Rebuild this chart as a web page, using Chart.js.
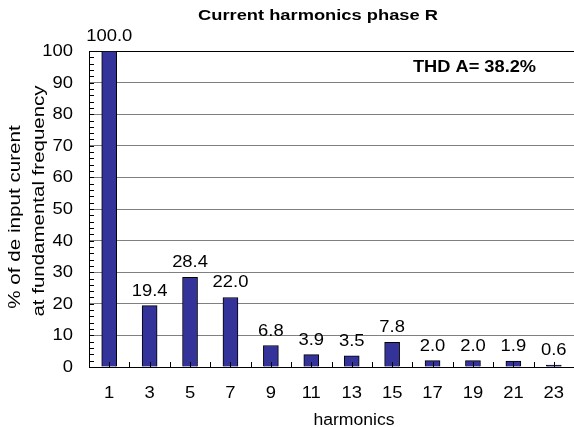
<!DOCTYPE html>
<html>
<head>
<meta charset="utf-8">
<script src="https://cdn.jsdelivr.net/npm/chart.js@4.4.1/dist/chart.umd.min.js"></script>
<style>
  html, body { margin: 0; padding: 0; background: #fff; }
  #wrap { width: 574px; height: 427px; }
</style>
</head>
<body>
<div id="wrap"><canvas id="harmChart"></canvas></div>
<script>
'use strict';

// ---- data ----
const harmonics = ['1', '3', '5', '7', '9', '11', '13', '15', '17', '19', '21', '23'];
const currentPct = [100.0, 19.4, 28.4, 22.0, 6.8, 3.9, 3.5, 7.8, 2.0, 2.0, 1.9, 0.6];
const yMin = 0, yMax = 100, yStep = 10, yMinorStep = 2;
const chartTitle = 'Current harmonics phase R';
const thdLabel = 'THD A= 38.2%';
const xTitle = 'harmonics';
const yTitle = ['% of de input curent', 'at fundamental frequency'];

const FONT = '"Liberation Sans", Arial, sans-serif';
const STRETCH = 1.15; // the source text is drawn a bit wide

function wideText(ctx, text, x, y, o) {
  ctx.save();
  ctx.translate(x, y);
  if (o.rotate) ctx.rotate(o.rotate);
  ctx.scale(o.sx || STRETCH, 1);
  ctx.font = o.font;
  ctx.fillStyle = '#000';
  ctx.textAlign = o.align || 'center';
  ctx.textBaseline = o.baseline || 'middle';
  ctx.fillText(text, 0, 0);
  ctx.restore();
}

// ---- ticks, labels and titles ----
const decorPlugin = {
  id: 'decor',
  afterDatasetsDraw(chart) {
    const { ctx, chartArea: a, scales: { x, y } } = chart;
    ctx.save();
    ctx.strokeStyle = '#000';
    ctx.lineWidth = 1;
    ctx.beginPath();
    // minor ticks on y, pointing inward
    for (let v = yMin; v <= yMax; v += yMinorStep) {
      const py = Math.round(y.getPixelForValue(v)) + 0.5;
      ctx.moveTo(a.left, py);
      ctx.lineTo(a.left + 5, py);
    }
    // x ticks at category centres and boundaries
    const half = (a.right - a.left) / (harmonics.length * 2);
    for (let i = 1; i < harmonics.length * 2; i++) {
      const px = Math.round(a.left + i * half) + 0.5;
      ctx.moveTo(px, a.bottom);
      ctx.lineTo(px, a.bottom - 5);
    }
    ctx.stroke();
    ctx.restore();

    const tickFont = '16px ' + FONT;
    // y tick labels
    for (let v = yMin; v <= yMax; v += yStep) {
      wideText(ctx, String(v), 73, y.getPixelForValue(v) + 0.5, { font: tickFont, align: 'right' });
    }
    // x tick labels
    harmonics.forEach((lab, i) => {
      wideText(ctx, lab, x.getPixelForTick(i), 393.5, { font: tickFont });
    });
    // value labels above bars
    const meta = chart.getDatasetMeta(0);
    meta.data.forEach((bar, i) => {
      wideText(ctx, currentPct[i].toFixed(1), bar.x, bar.y - 10, { font: tickFont, baseline: 'alphabetic' });
    });

    // titles
    wideText(ctx, chartTitle, 318, 15.5, { font: 'bold 15px ' + FONT, sx: 1.22 });
    wideText(ctx, thdLabel, 474.5, 68, { font: 'bold 16px ' + FONT, sx: 1.14 });
    wideText(ctx, xTitle, 354, 424.5, { font: tickFont, baseline: 'alphabetic', sx: 1.1 });
    wideText(ctx, yTitle[0], 16, 217, { font: tickFont, rotate: -Math.PI / 2, sx: 1.29 });
    wideText(ctx, yTitle[1], 40, 201, { font: tickFont, rotate: -Math.PI / 2, sx: 1.28 });
  },
};

new Chart(document.getElementById('harmChart'), {
  type: 'bar',
  data: {
    labels: harmonics,
    datasets: [{
      data: currentPct,
      backgroundColor: '#333399',
      borderColor: '#000',
      borderWidth: 1,
      barThickness: 15,
    }],
  },
  options: {
    responsive: true,
    maintainAspectRatio: false,
    animation: false,
    layout: { padding: { top: 51, right: 0, left: 0, bottom: 0 } },
    plugins: {
      legend: { display: false },
      tooltip: { enabled: false },
    },
    scales: {
      x: {
        grid: { display: false },
        border: { display: true, color: '#000', width: 1 },
        ticks: { display: false },
        afterFit: s => { s.height = 60; },
      },
      y: {
        min: yMin,
        max: yMax,
        grid: {
          color: c => (c.tick && c.tick.value === yMax ? '#000' : '#808080'),
          lineWidth: 1,
          drawTicks: false,
        },
        border: { display: true, color: '#000', width: 1 },
        ticks: { display: false, stepSize: yStep },
        afterFit: s => { s.width = 89; },
      },
    },
  },
  plugins: [decorPlugin],
});
</script>
</body>
</html>
